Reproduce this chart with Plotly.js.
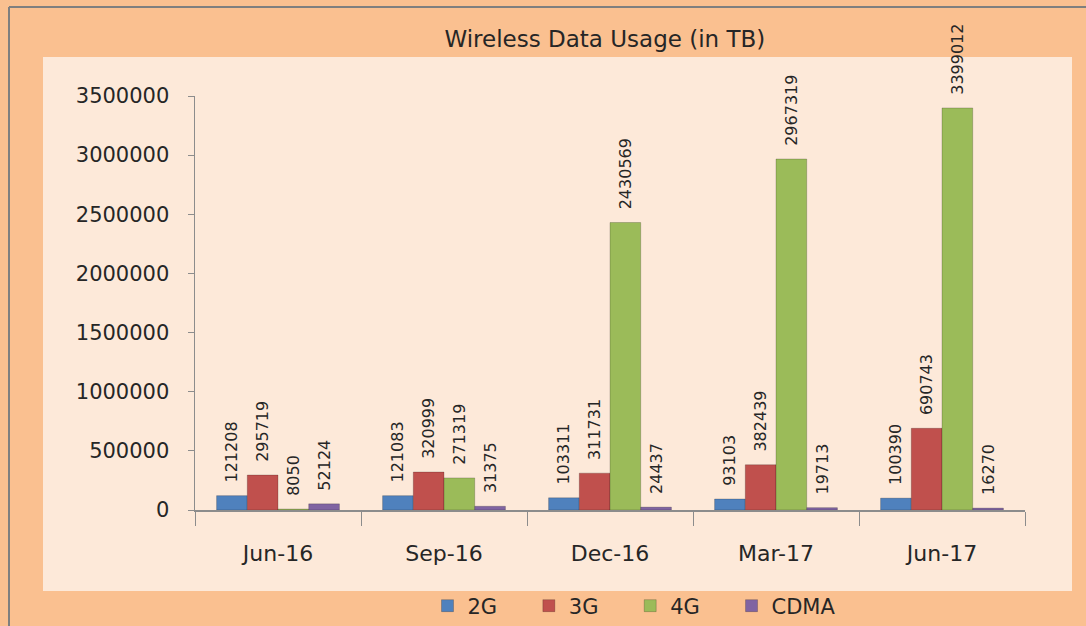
<!DOCTYPE html>
<html>
<head>
<meta charset="utf-8">
<script src="https://cdn.plot.ly/plotly-3.0.1.min.js"></script>
<style>
  body { margin: 0; background: #ffffff; }
  #plot { width: 1086px; height: 626px; }
</style>
</head>
<body>
<div id="plot"></div>
<script>
// quarters
const quarters = ["Jun-16", "Sep-16", "Dec-16", "Mar-17", "Jun-17"];

// usage per technology (TB)
const usage2G = [121208, 121083, 103311, 93103, 100390];
const usage3G = [295719, 320999, 311731, 382439, 690743];
const usage4G = [8050, 271319, 2430569, 2967319, 3399012];
const usageCDMA = [52124, 31375, 24437, 19713, 16270];

const yTicks = [0, 500000, 1000000, 1500000, 2000000, 2500000, 3000000, 3500000];

// legend names get some trailing space so the entries sit apart like the original
const pad = "\u00a0\u00a0\u00a0\u00a0";

function bar(name, values, color) {
    return {
        type: "bar",
        name: name,
        x: quarters,
        y: values,
        marker: { color: color, line: { color: "rgba(0,0,0,0.2)", width: 1 } },
        // a little space before each label, like the original
        text: values.map(v => "\u00a0\u00a0" + v),
        textposition: "outside",
        textangle: -90,
        constraintext: "none",
        cliponaxis: false,
        textfont: { family: "DejaVu Sans", size: 16, color: "#262626" }
    };
}

const traces = [
    bar("2G" + pad, usage2G, "#4f81bd"),
    bar("3G" + pad, usage3G, "#c0504d"),
    bar("4G" + pad, usage4G, "#9bbb59"),
    bar("CDMA", usageCDMA, "#8064a2")
];

// plot area: x 195..1025, y 96..510
const L = 195, R = 1025, T = 96, B = 510;
const px = v => (v - L) / (R - L);
const py = v => (B - v) / (B - T);

Plotly.newPlot("plot", traces, {
    width: 1086,
    height: 626,
    margin: { l: L, r: 1086 - R, t: T, b: 626 - B, autoexpand: false },
    paper_bgcolor: "#fac090",
    plot_bgcolor: "#fde9d9",
    font: { family: "DejaVu Sans, sans-serif", color: "#262626" },
    title: {
        text: "Wireless Data Usage (in TB)",
        font: { size: 23, color: "#262626" },
        x: 0.557, xanchor: "center",
        y: 0.937, yanchor: "middle"
    },
    barmode: "group",
    bargap: 0.26,
    bargroupgap: 0,
    showlegend: true,
    legend: {
        orientation: "h",
        xref: "container", yref: "container",
        x: 634 / 1086, xanchor: "center",
        y: (626 - 606) / 626, yanchor: "middle",
        font: { size: 21 },
        itemwidth: 30,
        traceorder: "normal",
        bgcolor: "rgba(0,0,0,0)"
    },
    xaxis: {
        type: "category",
        showgrid: false,
        showline: true,
        linecolor: "#8c8c8c",
        linewidth: 1.5,
        ticks: "outside",
        tickson: "boundaries",
        ticklen: 14,
        tickcolor: "#8c8c8c",
        ticklabelstandoff: 23,
        tickfont: { size: 22 },
        fixedrange: true
    },
    yaxis: {
        range: [0, 3500000],
        tickvals: yTicks,
        ticktext: yTicks.map(String),
        showgrid: false,
        zeroline: false,
        showline: true,
        linecolor: "#8c8c8c",
        linewidth: 1.5,
        ticks: "outside",
        ticklen: 6,
        tickcolor: "#8c8c8c",
        ticklabelstandoff: 14,
        tickfont: { size: 21 },
        fixedrange: true
    },
    shapes: [
        // light inner panel
        {
            type: "rect", xref: "paper", yref: "paper", layer: "below",
            x0: px(43), x1: px(1072), y0: py(591), y1: py(57),
            fillcolor: "#fde9d9", line: { width: 0 }
        },
        // grey outer border
        {
            type: "line", xref: "paper", yref: "paper",
            x0: px(9), x1: px(9), y0: py(7), y1: py(626),
            line: { color: "#7f7f7f", width: 2 }
        },
        {
            type: "line", xref: "paper", yref: "paper",
            x0: px(9), x1: px(1086), y0: py(7), y1: py(7),
            line: { color: "#7f7f7f", width: 2 }
        }
    ]
}, { staticPlot: true });
</script>
</body>
</html>
